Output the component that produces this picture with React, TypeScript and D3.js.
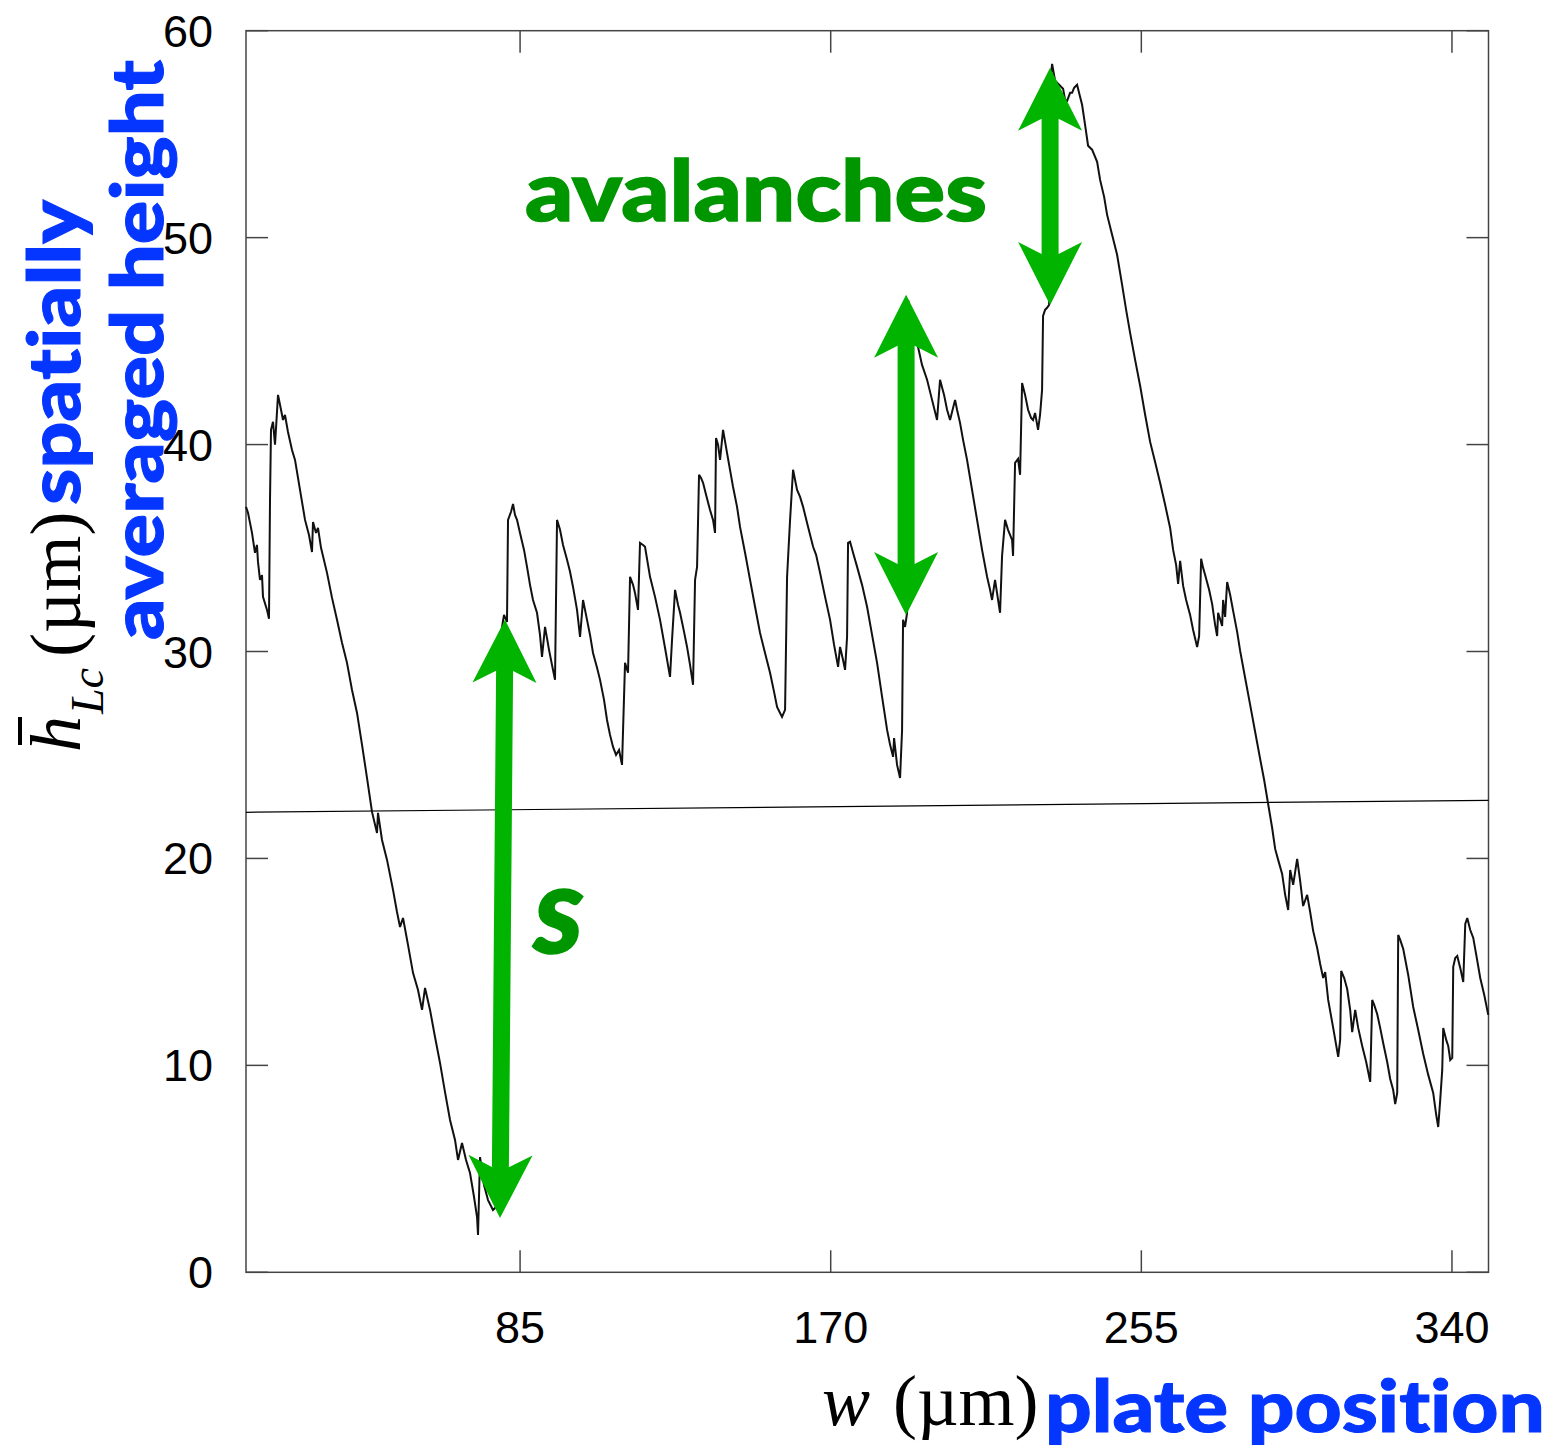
import React from "react";
import * as d3 from "d3";

// Plate position w (µm) and spatially averaged height h (µm) of the trace
const wPos = [
  10.0, 10.55, 11.64, 12.46, 13.0, 13.28, 13.83, 14.38, 14.65, 15.75, 16.29, 16.57, 16.84, 17.39, 17.94, 18.76,
  19.58, 20.13, 20.67, 21.49, 22.59, 23.41, 24.78, 26.15, 27.24, 28.06, 28.34, 29.16, 29.7, 30.53, 32.17, 33.54,
  34.9, 36.27, 37.64, 39.01, 40.38, 41.75, 43.11, 44.48, 45.85, 46.12, 47.22, 48.59, 50.23, 51.32, 52.15, 52.97,
  54.33, 55.7, 57.07, 58.17, 58.99, 60.36, 61.72, 63.09, 64.46, 65.83, 67.2, 68.02, 69.11, 70.21, 71.3, 72.4,
  73.22, 73.49, 74.04, 75.13, 76.23, 77.59, 78.69, 79.51, 80.6, 81.42, 81.7, 82.52, 83.07, 83.61, 84.16, 84.98,
  86.08, 86.9, 87.72, 88.54, 89.63, 90.45, 91.0, 91.83, 92.92, 93.74, 94.56, 95.11, 95.93, 96.75, 97.85, 98.67,
  99.49, 100.58, 101.41, 102.23, 103.32, 104.14, 104.96, 106.06, 106.88, 107.97, 108.79, 109.61, 110.44, 111.26,
  112.08, 112.9, 113.72, 114.54, 115.09, 115.91, 116.45, 117.27, 117.82, 118.64, 119.19, 120.01, 120.56, 121.93,
  123.3, 124.67, 126.03, 126.58, 127.41, 128.23, 128.78, 129.87, 130.69, 131.51, 132.33, 132.88, 133.43, 133.97,
  134.52, 135.07, 135.89, 136.98, 137.8, 138.35, 138.62, 139.17, 139.72, 140.54, 141.63, 142.45, 143.27, 144.37,
  145.19, 146.56, 147.93, 149.3, 150.66, 152.03, 153.4, 154.5, 155.32, 156.14, 156.69, 157.51, 158.06, 158.88,
  159.7, 160.25, 160.8, 161.62, 162.44, 163.81, 165.18, 166.0, 167.09, 168.46, 169.83, 170.92, 172.02, 172.56,
  173.38, 173.93, 174.48, 174.75, 175.3, 176.12, 177.22, 178.58, 179.95, 181.32, 182.69, 184.06, 185.43, 186.25,
  187.07, 187.34, 188.16, 188.98, 189.53, 189.8, 190.35, 190.9, 191.17, 192.26, 194.99, 196.37, 197.73, 199.1,
  199.92, 201.02, 201.84, 202.66, 204.03, 204.57, 205.39, 206.22, 207.31, 208.68, 210.05, 211.42, 212.79, 213.61,
  214.15, 214.97, 215.8, 216.34, 216.89, 217.71, 218.53, 219.63, 219.9, 220.45, 221.27, 221.82, 222.37, 223.19,
  224.01, 224.83, 225.37, 225.92, 226.74, 227.29, 227.84, 228.11, 228.66, 229.21, 229.76, 230.3, 230.58, 231.4,
  232.5, 233.59, 234.14, 234.69, 235.51, 236.06, 236.6, 237.42, 238.25, 238.79, 239.61, 240.43, 241.53, 242.9,
  243.72, 244.82, 245.64, 247.0, 248.37, 249.74, 250.84, 251.93, 253.3, 254.67, 256.04, 257.41, 258.77, 260.14,
  261.51, 262.88, 263.7, 264.52, 265.07, 265.62, 266.44, 267.26, 268.35, 269.17, 270.27, 270.82, 271.36, 271.91,
  272.46, 273.55, 274.37, 275.19, 275.74, 276.01, 277.11, 277.38, 277.93, 278.48, 279.3, 280.12, 281.22, 282.04,
  283.41, 284.78, 286.15, 287.51, 288.61, 289.7, 290.8, 291.62, 292.44, 293.53, 294.36, 295.18, 295.73, 296.55,
  297.64, 298.46, 299.28, 300.38, 301.2, 302.02, 303.12, 303.94, 304.76, 305.31, 306.13, 307.5, 308.87, 309.41,
  309.69, 310.51, 311.33, 312.15, 312.7, 313.52, 314.34, 315.44, 316.53, 317.63, 318.17, 318.72, 319.54, 320.36,
  321.18, 322.28, 323.1, 323.92, 324.47, 325.02, 325.29, 325.84, 326.66, 328.03, 329.4, 330.77, 332.14, 333.51,
  334.87, 335.7, 336.24, 336.79, 337.34, 337.61, 338.43, 338.98, 339.53, 340.08, 340.35, 340.9, 341.45, 342.27,
  343.09, 343.64, 344.19, 345.01, 345.83, 346.65, 347.74, 348.84, 349.93,
];

const hAvg = [
  36.99, 36.7, 35.73, 34.77, 35.15, 34.33, 33.46, 33.69, 32.64, 32.01, 31.58, 37.33, 40.71, 41.1, 39.99, 42.4,
  41.68, 41.19, 41.43, 40.61, 39.74, 39.26, 37.81, 36.36, 35.63, 34.81, 36.26, 35.73, 35.97, 35.01, 33.8, 32.59,
  31.53, 30.42, 29.45, 28.14, 27.03, 25.49, 23.89, 22.25, 21.23, 22.2, 20.89, 19.93, 18.48, 17.41, 16.69, 17.12,
  15.82, 14.47, 13.64, 12.68, 13.74, 12.68, 11.37, 10.12, 8.71, 7.36, 6.39, 5.43, 6.25, 5.43, 4.8, 3.64,
  2.67, 1.8, 5.57, 4.22, 3.49, 3.01, 3.2, 30.56, 31.77, 31.43, 36.36, 36.75, 37.13, 36.6, 36.36, 35.73,
  34.91, 34.09, 33.22, 32.49, 31.87, 30.8, 29.74, 31.19, 30.08, 29.35, 28.63, 36.36, 35.88, 35.15, 34.43, 33.85,
  33.12, 32.01, 30.71, 32.49, 31.53, 30.8, 29.93, 29.21, 28.63, 27.66, 26.69, 25.97, 25.39, 25.0,
  25.24, 24.52, 29.45, 28.97, 33.61, 33.22, 32.83, 32.01, 35.25, 35.15, 35.06, 34.19, 33.61, 32.64,
  31.53, 30.17, 28.77, 30.56, 32.98, 32.25, 31.87, 30.95, 30.22, 29.35, 28.39, 33.46, 34.09, 38.54,
  38.39, 38.15, 37.57, 36.84, 36.36, 35.73, 40.32, 39.99, 39.26, 40.71, 39.6, 38.78, 37.96, 36.99,
  36.02, 34.77, 33.46, 32.16, 30.9, 29.93, 28.97, 28.05, 27.32, 27.03, 26.84, 27.18, 33.61, 36.36,
  38.78, 38.29, 37.81, 37.47, 36.99, 36.02, 35.06, 34.67, 33.8, 32.64, 31.53, 30.32, 29.26, 30.22,
  29.59, 29.11, 30.71, 35.25, 35.3, 34.77, 34.09, 33.22, 32.16, 30.8, 29.45, 27.81, 26.21, 25.49,
  24.91, 25.82, 24.52, 23.89, 26.21, 31.53, 31.19, 31.87, 46.99, 46.03, 43.85, 43.13, 42.16, 41.19,
  43.13, 42.4, 41.68, 41.19, 42.16, 41.68, 41.05, 40.23, 39.26, 37.81, 36.36, 34.91, 33.61, 32.98,
  32.49, 33.46, 32.49, 31.87, 34.62, 36.36, 35.88, 35.39, 34.62, 39.12, 39.31, 38.54, 42.98, 42.4,
  41.68, 41.29, 41.19, 41.53, 40.71, 41.44, 42.64, 46.22, 46.51, 46.61, 46.75, 57.87, 58.4, 57.58,
  57.39, 57.19, 56.66, 56.61, 57.0, 57.0, 57.24, 57.39, 56.8, 56.42, 55.45, 54.44, 54.25, 53.66,
  52.79, 51.97, 51.1, 50.14, 49.17, 47.72, 46.51, 45.4, 44.09, 42.84, 41.44, 40.13, 39.16, 38.15,
  37.09, 35.97, 34.91, 34.19, 33.27, 34.38, 33.17, 32.49, 31.77, 31.04, 30.22, 30.75, 34.48, 34.04,
  33.7, 32.98, 32.3, 31.29, 30.75, 31.87, 31.24, 32.49, 31.67, 33.36, 32.74, 31.96, 30.95, 30.03,
  28.72, 27.42, 26.11, 24.81, 23.79, 22.63, 21.47, 20.46, 19.93, 19.25, 18.24, 17.51, 19.44, 18.72,
  19.98, 18.91, 17.7, 18.24, 17.41, 16.5, 15.67, 14.9, 14.22, 14.51, 13.16, 11.81, 10.41, 11.23,
  14.56, 14.22, 13.69, 12.68, 11.61, 12.68, 11.81, 10.94, 10.16, 9.2, 13.16, 12.92, 12.48, 11.81,
  11.08, 10.16, 9.34, 8.81, 8.13, 8.67, 16.3, 16.06, 15.63, 14.37, 12.82, 11.71, 10.55, 9.54,
  8.67, 7.6, 7.02, 8.33, 9.78, 11.81, 11.23, 10.94, 10.26, 10.36, 14.76, 15.19, 15.29, 14.71,
  14.03, 16.83, 17.12, 16.54, 16.16, 15.34, 14.22, 13.4, 12.44,
];

// Reference level line (w, h) at both ends
const refLineW = [10, 350];
const refLineH = [22.23, 22.81];

// Axis ranges and ticks
const wDomain = [10, 350];
const hDomain = [0, 60];
const wTicks = [85, 170, 255, 340];
const hTicks = [0, 10, 20, 30, 40, 50, 60];

// Double-headed arrows: [w_top, h_top, w_bottom, h_bottom]
const sizeArrow = [80.88, 31.53, 79.51, 2.62];
const avalancheArrows = [
  [190.62, 47.24, 190.62, 31.77],
  [230.03, 58.21, 230.03, 46.75],
];

const GREEN_ARROW = "#00b400";
const GREEN_TEXT = "#009600";
const BLUE = "#0536ff";

const left = 246;
const right = 1488.5;
const top = 30.7;
const bottom = 1272.3;

function arrowPath(x1: number, y1: number, x2: number, y2: number) {
  const dx = x2 - x1;
  const dy = y2 - y1;
  const L = Math.hypot(dx, dy);
  const ux = dx / L;
  const uy = dy / L;
  const px = -uy;
  const py = ux;
  const hl = 63;
  const hw = 32;
  const nl = 51;
  const sw = 8.5;
  const P = (d: number, o: number) => [x1 + ux * d + px * o, y1 + uy * d + py * o];
  const pts = [
    P(0, 0), P(hl, hw), P(nl, sw), P(L - nl, sw), P(L - hl, hw),
    P(L, 0), P(L - hl, -hw), P(L - nl, -sw), P(nl, -sw), P(hl, -hw),
  ];
  return "M" + pts.map((p) => p[0].toFixed(1) + "," + p[1].toFixed(1)).join("L") + "Z";
}

export default function App() {
  const x = d3.scaleLinear().domain(wDomain).range([left, right]);
  const y = d3.scaleLinear().domain(hDomain).range([bottom, top]);

  const pts = wPos.map((w, i) => [w, hAvg[i]] as [number, number]);
  const line = d3
    .line<[number, number]>()
    .x((d) => x(d[0]))
    .y((d) => y(d[1]));

  const tickLen = 22;
  const axisColor = "#444";
  const serif = "'Liberation Serif', 'DejaVu Serif', serif";
  const sans = "'Liberation Sans', Arial, sans-serif";
  const bold = "Lato, 'Open Sans', sans-serif";
  const noLig = { fontVariantLigatures: "none" as const, fontFeatureSettings: "'liga' 0, 'clig' 0" };

  const arrows = [sizeArrow, ...avalancheArrows];

  return (
    <svg
      width={1555}
      height={1449}
      style={{ position: "absolute", left: 0, top: 0, display: "block", background: "#fff" }}
    >
      <rect x={0} y={0} width={1555} height={1449} fill="#fff" />

      {/* frame */}
      <rect x={left} y={top} width={right - left} height={bottom - top} fill="none" stroke={axisColor} strokeWidth={1.5} />

      {/* y ticks, both sides */}
      {hTicks.map((t) => (
        <g key={"h" + t}>
          <line x1={left} x2={left + tickLen} y1={y(t)} y2={y(t)} stroke={axisColor} strokeWidth={1.5} />
          <line x1={right} x2={right - tickLen} y1={y(t)} y2={y(t)} stroke={axisColor} strokeWidth={1.5} />
          <text x={213} y={y(t) + 16} textAnchor="end" fontFamily={sans} fontSize={45} fill="#000">
            {t}
          </text>
        </g>
      ))}

      {/* x ticks, both sides */}
      {wTicks.map((t) => (
        <g key={"w" + t}>
          <line x1={x(t)} x2={x(t)} y1={bottom} y2={bottom - tickLen} stroke={axisColor} strokeWidth={1.5} />
          <line x1={x(t)} x2={x(t)} y1={top} y2={top + tickLen} stroke={axisColor} strokeWidth={1.5} />
          <text x={x(t)} y={1343} textAnchor="middle" fontFamily={sans} fontSize={45} fill="#000">
            {t}
          </text>
        </g>
      ))}

      {/* reference level */}
      <line
        x1={x(refLineW[0])}
        y1={y(refLineH[0])}
        x2={x(refLineW[1])}
        y2={y(refLineH[1])}
        stroke="#000"
        strokeWidth={1.2}
      />

      {/* height trace */}
      <path d={line(pts) || ""} fill="none" stroke="#111" strokeWidth={2} strokeLinejoin="miter" strokeMiterlimit={3} />

      {/* arrows */}
      {arrows.map((a, i) => (
        <path key={"a" + i} d={arrowPath(x(a[0]), y(a[1]), x(a[2]), y(a[3]))} fill={GREEN_ARROW} />
      ))}

      {/* annotations */}
      <text
        x={525}
        y={221}
        fontFamily={bold}
        fontWeight={900}
        fontSize={84}
        fill={GREEN_TEXT}
        stroke={GREEN_TEXT}
        strokeWidth={1.5}
        textLength={462}
        lengthAdjust="spacingAndGlyphs"
        style={noLig}
      >
        avalanches
      </text>
      <text
        x={534}
        y={953}
        fontFamily={bold}
        fontWeight={900}
        fontStyle="italic"
        fontSize={122}
        fill={GREEN_TEXT}
        stroke={GREEN_TEXT}
        strokeWidth={1.5}
      >
        s
      </text>

      {/* x axis label */}
      <text x={822} y={1425} fontFamily={serif} fontSize={72} fontStyle="italic" fill="#000">
        w
      </text>
      <text x={893} y={1425} fontFamily={serif} fontSize={72} fill="#000">
        (µm)
      </text>
      <text
        x={1045}
        y={1432}
        fontFamily={bold}
        fontWeight={900}
        fontSize={73}
        fill={BLUE}
        stroke={BLUE}
        strokeWidth={1}
        textLength={500}
        lengthAdjust="spacingAndGlyphs"
        style={noLig}
      >
        plate position
      </text>

      {/* y axis label */}
      <g transform="translate(80,752) rotate(-90)">
        <text x={0} y={0} fontFamily={serif} fontSize={72} fontStyle="italic" fill="#000">
          h
        </text>
        <line x1={7} x2={35} y1={-60} y2={-60} stroke="#000" strokeWidth={4} />
        <text x={38} y={23} fontFamily={serif} fontSize={46} fontStyle="italic" fill="#000">
          Lc
        </text>
        <text x={95} y={0} fontFamily={serif} fontSize={72} fill="#000">
          (µm)
        </text>
      </g>
      <g transform="translate(80,505) rotate(-90)">
        <text
          x={0}
          y={0}
          fontFamily={bold}
          fontWeight={900}
          fontSize={73}
          fill={BLUE}
          stroke={BLUE}
          strokeWidth={1}
          textLength={305}
          lengthAdjust="spacingAndGlyphs"
          style={noLig}
        >
          spatially
        </text>
      </g>
      <g transform="translate(163,640) rotate(-90)">
        <text
          x={0}
          y={0}
          fontFamily={bold}
          fontWeight={900}
          fontSize={73}
          fill={BLUE}
          stroke={BLUE}
          strokeWidth={1}
          textLength={580}
          lengthAdjust="spacingAndGlyphs"
          style={noLig}
        >
          averaged height
        </text>
      </g>
    </svg>
  );
}
